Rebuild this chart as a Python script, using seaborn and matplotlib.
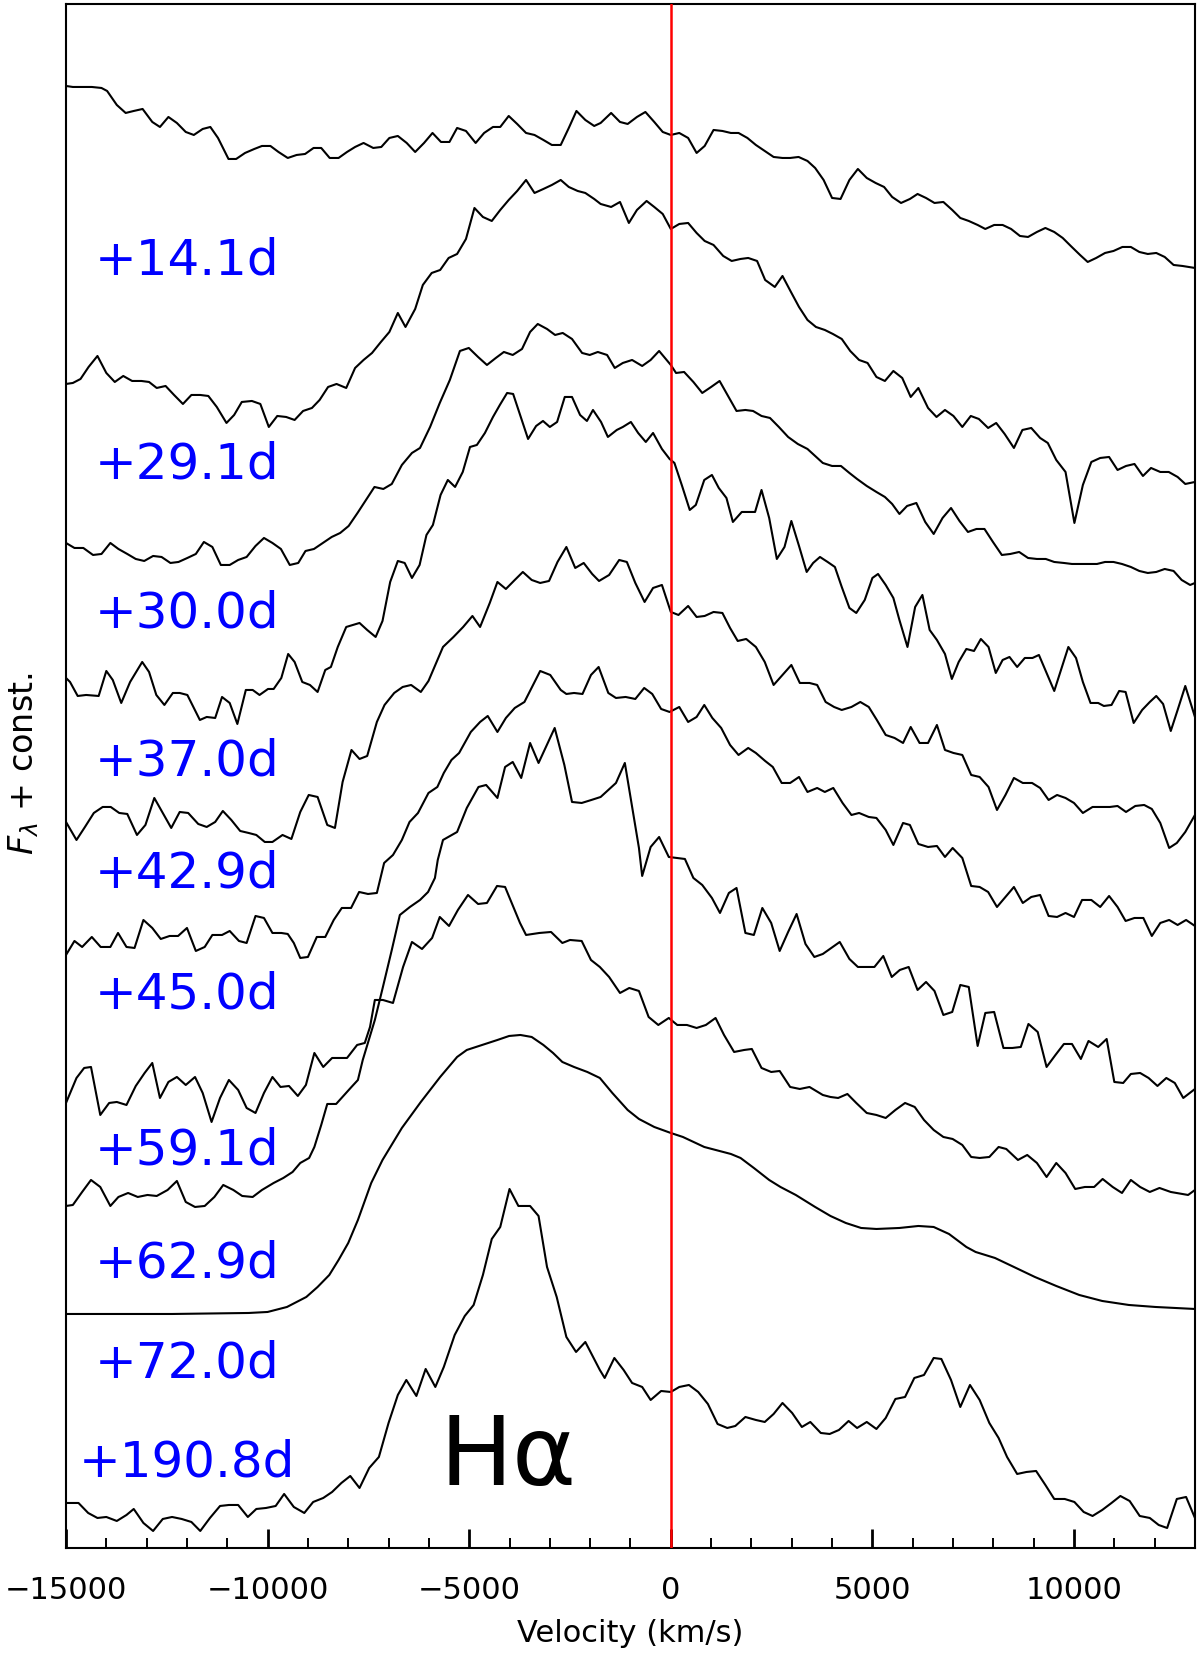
import pandas as pd
import matplotlib
matplotlib.use("Agg")
import matplotlib.pyplot as plt
import seaborn as sns
from matplotlib.ticker import MultipleLocator

# epochs, top to bottom, and the constant added to each spectrum
epochs = ["+14.1d", "+29.1d", "+30.0d", "+37.0d", "+42.9d",
          "+45.0d", "+59.1d", "+62.9d", "+72.0d", "+190.8d"]
offsets = [12, 10, 9, 8, 6, 5, 3, 2, 2, 0]

# (velocity km/s, scaled flux)
spec_14 = [(-15000, 2.62), (-14830, 2.61), (-14690, 2.61), (-14360, 2.61), (-14120, 2.60), (-13980, 2.57), (-13740, 2.43), (-13520, 2.35), (-13320, 2.37), (-13100, 2.39), (-12860, 2.26), (-12670, 2.21), (-12460, 2.31), (-12250, 2.25), (-12030, 2.16), (-11830, 2.13), (-11610, 2.19), (-11420, 2.21), (-11230, 2.10), (-10970, 1.89), (-10780, 1.89), (-10560, 1.95), (-10330, 1.99), (-10140, 2.02), (-9930, 2.02), (-9730, 1.96), (-9500, 1.90), (-9280, 1.93), (-9070, 1.94), (-8860, 2.00), (-8670, 2.00), (-8460, 1.90), (-8240, 1.90), (-8030, 1.96), (-7830, 2.01), (-7620, 2.05), (-7380, 2.00), (-7180, 2.01), (-6980, 2.10), (-6770, 2.12), (-6550, 2.05), (-6340, 1.96), (-6120, 2.05), (-5910, 2.15), (-5700, 2.06), (-5490, 2.06), (-5300, 2.20), (-5080, 2.17), (-4840, 2.05), (-4630, 2.15), (-4410, 2.21), (-4230, 2.21), (-4020, 2.32), (-3810, 2.24), (-3590, 2.15), (-3380, 2.13), (-3160, 2.08), (-2950, 2.03), (-2730, 2.03), (-2530, 2.20), (-2340, 2.37), (-2120, 2.28), (-1900, 2.22), (-1740, 2.25), (-1480, 2.35), (-1260, 2.26), (-1070, 2.24), (-840, 2.31), (-630, 2.36), (-410, 2.26), (-200, 2.16), (0, 2.13), (210, 2.15), (430, 2.10), (640, 1.95), (840, 2.02), (1060, 2.18), (1280, 2.17), (1490, 2.15), (1680, 2.15), (1900, 2.10), (2110, 2.03), (2330, 1.97), (2550, 1.91), (2770, 1.90), (2960, 1.90), (3170, 1.91), (3390, 1.87), (3580, 1.80), (3790, 1.68), (4000, 1.50), (4210, 1.49), (4430, 1.68), (4640, 1.79), (4860, 1.70), (5080, 1.65), (5290, 1.61), (5490, 1.51), (5710, 1.45), (5930, 1.49), (6120, 1.54), (6330, 1.50), (6540, 1.45), (6760, 1.46), (6980, 1.38), (7180, 1.30), (7390, 1.27), (7610, 1.23), (7800, 1.19), (8020, 1.23), (8230, 1.23), (8440, 1.19), (8660, 1.12), (8860, 1.11), (9080, 1.16), (9290, 1.20), (9510, 1.16), (9720, 1.10), (9920, 1.02), (10150, 0.93), (10340, 0.86), (10550, 0.90), (10770, 0.95), (10980, 0.97), (11200, 1.01), (11410, 1.01), (11620, 0.96), (11830, 0.94), (12040, 0.95), (12250, 0.91), (12470, 0.83), (12690, 0.82), (13000, 0.80)]

spec_29 = [(-15000, 1.64), (-14830, 1.65), (-14640, 1.69), (-14440, 1.81), (-14220, 1.92), (-14000, 1.75), (-13790, 1.66), (-13580, 1.72), (-13360, 1.67), (-13130, 1.67), (-12940, 1.66), (-12750, 1.60), (-12530, 1.62), (-12320, 1.53), (-12100, 1.44), (-11890, 1.53), (-11670, 1.53), (-11470, 1.52), (-11260, 1.41), (-11020, 1.25), (-10830, 1.33), (-10640, 1.46), (-10390, 1.47), (-10180, 1.44), (-9970, 1.21), (-9760, 1.32), (-9540, 1.31), (-9330, 1.28), (-9120, 1.37), (-8900, 1.40), (-8710, 1.48), (-8500, 1.61), (-8290, 1.64), (-8050, 1.60), (-7830, 1.80), (-7620, 1.88), (-7410, 1.95), (-7190, 2.06), (-6980, 2.16), (-6770, 2.35), (-6580, 2.21), (-6340, 2.39), (-6150, 2.63), (-5930, 2.75), (-5720, 2.78), (-5510, 2.90), (-5300, 2.94), (-5080, 3.09), (-4870, 3.40), (-4660, 3.31), (-4440, 3.27), (-4230, 3.38), (-4020, 3.48), (-3810, 3.57), (-3590, 3.68), (-3380, 3.55), (-3160, 3.59), (-2950, 3.63), (-2730, 3.68), (-2530, 3.61), (-2310, 3.57), (-2120, 3.55), (-1900, 3.49), (-1740, 3.44), (-1480, 3.41), (-1260, 3.46), (-1040, 3.25), (-840, 3.38), (-600, 3.47), (-410, 3.41), (-200, 3.34), (0, 3.19), (210, 3.24), (430, 3.25), (640, 3.15), (840, 3.07), (1060, 3.03), (1300, 2.92), (1510, 2.87), (1730, 2.89), (1920, 2.90), (2140, 2.87), (2340, 2.68), (2580, 2.61), (2770, 2.72), (2980, 2.56), (3180, 2.41), (3390, 2.28), (3600, 2.21), (3820, 2.18), (4020, 2.14), (4240, 2.09), (4450, 1.97), (4670, 1.88), (4880, 1.85), (5100, 1.71), (5310, 1.67), (5520, 1.77), (5740, 1.70), (5950, 1.51), (6140, 1.60), (6380, 1.40), (6590, 1.31), (6800, 1.38), (7010, 1.32), (7230, 1.21), (7440, 1.32), (7640, 1.29), (7870, 1.20), (8070, 1.25), (8280, 1.14), (8510, 1.00), (8720, 1.18), (8940, 1.20), (9160, 1.10), (9350, 1.05), (9560, 0.88), (9790, 0.76), (10010, 0.25), (10220, 0.63), (10430, 0.86), (10650, 0.90), (10870, 0.91), (11080, 0.78), (11290, 0.82), (11500, 0.84), (11710, 0.72), (11910, 0.80), (12140, 0.76), (12350, 0.76), (12570, 0.71), (12760, 0.64), (13000, 0.66)]

spec_30 = [(-15000, 1.05), (-14790, 1.00), (-14570, 1.00), (-14330, 0.93), (-14120, 0.94), (-13900, 1.05), (-13700, 0.99), (-13480, 0.94), (-13270, 0.89), (-13060, 0.87), (-12840, 0.92), (-12630, 0.91), (-12410, 0.85), (-12210, 0.86), (-11990, 0.90), (-11780, 0.94), (-11580, 1.06), (-11370, 1.01), (-11160, 0.83), (-10940, 0.83), (-10730, 0.88), (-10520, 0.91), (-10300, 1.02), (-10090, 1.10), (-9880, 1.05), (-9670, 0.99), (-9450, 0.83), (-9240, 0.85), (-9060, 0.97), (-8850, 0.99), (-8630, 1.05), (-8410, 1.11), (-8200, 1.15), (-7990, 1.22), (-7770, 1.35), (-7560, 1.48), (-7350, 1.61), (-7130, 1.59), (-6920, 1.64), (-6670, 1.83), (-6420, 1.95), (-6220, 2.00), (-5970, 2.21), (-5730, 2.45), (-5480, 2.68), (-5230, 2.97), (-5010, 3.00), (-4780, 2.91), (-4560, 2.83), (-4340, 2.90), (-4140, 2.96), (-3920, 2.93), (-3690, 2.99), (-3490, 3.16), (-3300, 3.24), (-3070, 3.19), (-2870, 3.13), (-2680, 3.15), (-2450, 3.09), (-2200, 2.95), (-2010, 2.93), (-1810, 2.96), (-1580, 2.93), (-1390, 2.80), (-1190, 2.85), (-960, 2.88), (-710, 2.82), (-500, 2.88), (-290, 2.97), (0, 2.83), (130, 2.75), (330, 2.76), (560, 2.66), (780, 2.55), (1000, 2.61), (1210, 2.67), (1420, 2.52), (1630, 2.37), (1850, 2.38), (2040, 2.37), (2250, 2.32), (2460, 2.30), (2680, 2.21), (2910, 2.11), (3150, 2.04), (3390, 1.99), (3580, 1.92), (3770, 1.85), (4000, 1.82), (4220, 1.82), (4430, 1.75), (4620, 1.69), (4860, 1.62), (5100, 1.56), (5310, 1.51), (5490, 1.44), (5670, 1.34), (5860, 1.42), (6090, 1.45), (6310, 1.26), (6520, 1.14), (6740, 1.30), (6950, 1.40), (7160, 1.27), (7370, 1.16), (7580, 1.19), (7780, 1.19), (7990, 1.06), (8210, 0.93), (8420, 0.94), (8640, 0.96), (8860, 0.90), (9080, 0.89), (9300, 0.89), (9510, 0.86), (9750, 0.85), (9950, 0.84), (10170, 0.84), (10360, 0.84), (10570, 0.84), (10770, 0.86), (10980, 0.86), (11190, 0.84), (11410, 0.81), (11620, 0.77), (11830, 0.75), (12040, 0.76), (12250, 0.79), (12470, 0.77), (12670, 0.68), (12880, 0.63), (13000, 0.65)]

spec_37 = [(-15000, 0.70), (-14900, 0.66), (-14710, 0.52), (-14500, 0.53), (-14190, 0.52), (-14000, 0.77), (-13840, 0.68), (-13630, 0.45), (-13410, 0.66), (-13110, 0.86), (-12940, 0.76), (-12760, 0.53), (-12560, 0.43), (-12350, 0.55), (-12180, 0.55), (-11990, 0.53), (-11680, 0.28), (-11510, 0.31), (-11300, 0.30), (-11130, 0.51), (-10940, 0.45), (-10750, 0.24), (-10540, 0.58), (-10370, 0.58), (-10200, 0.53), (-9990, 0.59), (-9850, 0.59), (-9660, 0.70), (-9490, 0.94), (-9330, 0.86), (-9140, 0.66), (-8950, 0.63), (-8760, 0.56), (-8570, 0.78), (-8430, 0.81), (-8260, 1.01), (-8050, 1.21), (-7720, 1.25), (-7530, 1.18), (-7320, 1.11), (-7150, 1.27), (-6960, 1.66), (-6770, 1.87), (-6600, 1.85), (-6420, 1.70), (-6230, 1.83), (-6060, 2.13), (-5900, 2.23), (-5710, 2.53), (-5530, 2.68), (-5350, 2.61), (-5160, 2.76), (-4980, 3.01), (-4810, 3.03), (-4610, 3.15), (-4410, 3.31), (-4240, 3.43), (-4060, 3.55), (-3910, 3.54), (-3720, 3.31), (-3540, 3.09), (-3340, 3.22), (-3170, 3.27), (-3000, 3.21), (-2820, 3.26), (-2630, 3.51), (-2450, 3.51), (-2250, 3.33), (-2080, 3.27), (-1930, 3.38), (-1730, 3.26), (-1560, 3.11), (-1340, 3.18), (-1190, 3.21), (-990, 3.26), (-810, 3.15), (-620, 3.06), (-440, 3.15), (-220, 2.99), (-30, 2.89), (90, 2.85), (280, 2.62), (470, 2.38), (620, 2.43), (830, 2.68), (1020, 2.73), (1190, 2.60), (1380, 2.50), (1540, 2.26), (1760, 2.36), (2090, 2.36), (2250, 2.58), (2440, 2.30), (2630, 1.89), (2820, 2.01), (2990, 2.27), (3180, 2.02), (3370, 1.76), (3530, 1.85), (3700, 1.91), (3890, 1.86), (4070, 1.81), (4240, 1.61), (4430, 1.40), (4600, 1.35), (4810, 1.48), (5000, 1.70), (5140, 1.74), (5330, 1.63), (5520, 1.50), (5670, 1.28), (5870, 1.01), (6060, 1.41), (6240, 1.53), (6420, 1.18), (6600, 1.08), (6800, 0.94), (6970, 0.69), (7140, 0.86), (7330, 0.99), (7520, 0.97), (7690, 1.09), (7880, 1.01), (8060, 0.75), (8230, 0.88), (8400, 0.91), (8590, 0.81), (8780, 0.90), (8970, 0.90), (9130, 0.93), (9320, 0.75), (9510, 0.57), (9700, 0.81), (9860, 1.01), (10050, 0.90), (10220, 0.66), (10410, 0.45), (10600, 0.45), (10740, 0.42), (10930, 0.43), (11120, 0.57), (11280, 0.56), (11480, 0.25), (11690, 0.38), (11880, 0.46), (12040, 0.52), (12210, 0.44), (12400, 0.17), (12570, 0.38), (12760, 0.62), (13000, 0.31)]

spec_43 = [(-15000, 1.26), (-14740, 1.08), (-14530, 1.21), (-14310, 1.35), (-14090, 1.41), (-13890, 1.41), (-13680, 1.35), (-13480, 1.34), (-13240, 1.13), (-13030, 1.23), (-12810, 1.50), (-12600, 1.35), (-12390, 1.20), (-12180, 1.36), (-11970, 1.35), (-11720, 1.24), (-11510, 1.21), (-11300, 1.26), (-11110, 1.37), (-10900, 1.28), (-10680, 1.17), (-10470, 1.15), (-10280, 1.13), (-10070, 1.06), (-9880, 1.06), (-9630, 1.13), (-9410, 1.09), (-9190, 1.36), (-8980, 1.53), (-8760, 1.51), (-8520, 1.23), (-8330, 1.20), (-8140, 1.66), (-7920, 1.98), (-7720, 1.89), (-7530, 1.92), (-7290, 2.26), (-7100, 2.43), (-6860, 2.55), (-6650, 2.61), (-6440, 2.63), (-6200, 2.56), (-6010, 2.67), (-5820, 2.85), (-5650, 3.01), (-5390, 3.11), (-5150, 3.21), (-4920, 3.32), (-4730, 3.21), (-4490, 3.45), (-4300, 3.66), (-4090, 3.59), (-3870, 3.68), (-3670, 3.76), (-3450, 3.68), (-3240, 3.65), (-3020, 3.67), (-2810, 3.86), (-2590, 4.01), (-2370, 3.80), (-2160, 3.85), (-1950, 3.74), (-1780, 3.67), (-1530, 3.73), (-1280, 3.88), (-1090, 3.86), (-880, 3.65), (-650, 3.46), (-440, 3.60), (-220, 3.63), (0, 3.36), (190, 3.33), (430, 3.42), (640, 3.31), (840, 3.32), (1060, 3.36), (1280, 3.35), (1470, 3.20), (1660, 3.07), (1870, 3.09), (2110, 3.01), (2330, 2.86), (2550, 2.63), (2770, 2.73), (2990, 2.83), (3200, 2.65), (3440, 2.65), (3630, 2.63), (3840, 2.46), (4050, 2.41), (4240, 2.38), (4480, 2.41), (4700, 2.46), (4910, 2.41), (5110, 2.28), (5330, 2.13), (5550, 2.10), (5760, 2.05), (5950, 2.21), (6170, 2.05), (6380, 2.05), (6600, 2.23), (6800, 1.98), (7010, 1.95), (7230, 1.93), (7450, 1.73), (7660, 1.71), (7880, 1.61), (8090, 1.38), (8300, 1.53), (8510, 1.70), (8730, 1.65), (8960, 1.65), (9160, 1.60), (9370, 1.48), (9580, 1.53), (9790, 1.50), (10000, 1.45), (10220, 1.35), (10460, 1.41), (10890, 1.41), (11080, 1.42), (11290, 1.36), (11520, 1.42), (11740, 1.43), (11930, 1.39), (12140, 1.25), (12360, 1.00), (12550, 1.05), (12760, 1.16), (13000, 1.33)]

spec_45 = [(-15000, 0.93), (-14790, 1.07), (-14600, 1.01), (-14360, 1.11), (-14140, 1.01), (-13900, 1.01), (-13710, 1.15), (-13500, 1.01), (-13300, 1.00), (-13080, 1.28), (-12860, 1.20), (-12650, 1.09), (-12430, 1.12), (-12220, 1.12), (-12000, 1.20), (-11780, 0.97), (-11560, 1.01), (-11370, 1.13), (-11130, 1.13), (-10940, 1.17), (-10710, 1.07), (-10520, 1.05), (-10300, 1.32), (-10090, 1.30), (-9880, 1.15), (-9660, 1.15), (-9500, 1.14), (-9350, 1.05), (-9190, 0.90), (-9000, 0.91), (-8780, 1.11), (-8570, 1.11), (-8360, 1.28), (-8160, 1.40), (-7930, 1.40), (-7730, 1.56), (-7510, 1.54), (-7290, 1.55), (-7110, 1.85), (-6890, 1.93), (-6670, 2.08), (-6480, 2.26), (-6270, 2.35), (-6010, 2.55), (-5790, 2.61), (-5630, 2.75), (-5440, 2.88), (-5250, 2.95), (-4960, 3.16), (-4730, 3.26), (-4540, 3.32), (-4300, 3.16), (-4090, 3.30), (-3870, 3.40), (-3630, 3.46), (-3440, 3.61), (-3240, 3.77), (-2990, 3.73), (-2730, 3.58), (-2590, 3.54), (-2400, 3.55), (-2190, 3.54), (-1980, 3.73), (-1790, 3.81), (-1550, 3.55), (-1360, 3.50), (-1120, 3.51), (-880, 3.49), (-660, 3.60), (-460, 3.54), (-240, 3.39), (-30, 3.36), (210, 3.41), (430, 3.26), (640, 3.31), (830, 3.43), (1030, 3.30), (1250, 3.20), (1470, 3.03), (1680, 2.93), (1920, 3.00), (2110, 2.95), (2340, 2.87), (2530, 2.81), (2750, 2.65), (2960, 2.65), (3180, 2.71), (3390, 2.56), (3630, 2.60), (3820, 2.56), (4030, 2.60), (4260, 2.45), (4480, 2.33), (4670, 2.35), (4910, 2.31), (5100, 2.30), (5330, 2.18), (5520, 2.03), (5760, 2.25), (5930, 2.23), (6140, 2.04), (6380, 2.01), (6600, 2.02), (6800, 1.91), (6990, 2.00), (7230, 1.90), (7450, 1.62), (7660, 1.61), (7870, 1.56), (8090, 1.41), (8300, 1.51), (8510, 1.61), (8730, 1.45), (8940, 1.51), (9160, 1.53), (9370, 1.32), (9580, 1.31), (9790, 1.35), (10000, 1.31), (10200, 1.48), (10430, 1.48), (10650, 1.41), (10870, 1.52), (11080, 1.41), (11280, 1.27), (11500, 1.30), (11720, 1.30), (11930, 1.12), (12140, 1.25), (12360, 1.28), (12570, 1.23), (12780, 1.28), (13000, 1.22)]

spec_59 = [(-15000, 1.45), (-14740, 1.70), (-14550, 1.80), (-14380, 1.81), (-14150, 1.33), (-13930, 1.45), (-13740, 1.46), (-13500, 1.43), (-13270, 1.62), (-13050, 1.75), (-12860, 1.85), (-12670, 1.50), (-12460, 1.66), (-12250, 1.71), (-12030, 1.63), (-11800, 1.71), (-11610, 1.55), (-11390, 1.26), (-11180, 1.50), (-10960, 1.68), (-10730, 1.58), (-10520, 1.40), (-10300, 1.35), (-10090, 1.55), (-9880, 1.71), (-9680, 1.61), (-9470, 1.62), (-9250, 1.52), (-9050, 1.63), (-8840, 1.95), (-8620, 1.81), (-8400, 1.90), (-8190, 1.90), (-8030, 1.90), (-7780, 2.03), (-7590, 2.05), (-7460, 2.21), (-7340, 2.48), (-7140, 2.48), (-6890, 2.45), (-6640, 2.81), (-6420, 3.06), (-6170, 2.99), (-5920, 3.10), (-5730, 3.31), (-5500, 3.22), (-5280, 3.38), (-5030, 3.53), (-4780, 3.44), (-4560, 3.45), (-4310, 3.62), (-4110, 3.61), (-3740, 3.25), (-3590, 3.13), (-3260, 3.15), (-2970, 3.16), (-2690, 3.05), (-2500, 3.08), (-2210, 3.07), (-1980, 2.88), (-1760, 2.81), (-1530, 2.71), (-1260, 2.55), (-1030, 2.60), (-790, 2.57), (-550, 2.31), (-310, 2.23), (-50, 2.30), (160, 2.23), (400, 2.23), (640, 2.20), (870, 2.23), (1110, 2.30), (1320, 2.13), (1570, 1.96), (1820, 1.98), (2010, 1.99), (2250, 1.80), (2490, 1.76), (2700, 1.77), (2960, 1.61), (3200, 1.59), (3440, 1.61), (3770, 1.53), (3960, 1.51), (4150, 1.50), (4380, 1.54), (4600, 1.45), (4860, 1.35), (5100, 1.33), (5330, 1.30), (5570, 1.38), (5810, 1.45), (6050, 1.41), (6280, 1.28), (6520, 1.18), (6760, 1.11), (6990, 1.09), (7230, 1.03), (7450, 0.91), (7660, 0.90), (7900, 0.91), (8130, 1.01), (8320, 0.99), (8610, 0.88), (8840, 0.93), (9080, 0.85), (9320, 0.71), (9560, 0.85), (9790, 0.75), (10030, 0.59), (10270, 0.61), (10500, 0.61), (10710, 0.69), (10960, 0.61), (11190, 0.55), (11410, 0.68), (11640, 0.61), (11880, 0.56), (12120, 0.60), (12400, 0.56), (12830, 0.53), (13000, 0.58)]

spec_63 = [(-15000, 1.42), (-14830, 1.43), (-14600, 1.56), (-14380, 1.68), (-14150, 1.61), (-13900, 1.42), (-13700, 1.51), (-13460, 1.55), (-13220, 1.51), (-12980, 1.53), (-12750, 1.52), (-12480, 1.58), (-12250, 1.67), (-12030, 1.46), (-11800, 1.41), (-11560, 1.42), (-11320, 1.51), (-11100, 1.63), (-10850, 1.58), (-10630, 1.52), (-10370, 1.51), (-10140, 1.58), (-9850, 1.65), (-9610, 1.70), (-9380, 1.76), (-9190, 1.85), (-8970, 1.90), (-8840, 2.01), (-8670, 2.23), (-8520, 2.44), (-8300, 2.44), (-8100, 2.53), (-7920, 2.61), (-7760, 2.68), (-7640, 2.88), (-7340, 3.28), (-7140, 3.61), (-6920, 3.98), (-6720, 4.33), (-6470, 4.41), (-6220, 4.48), (-6020, 4.56), (-5850, 4.70), (-5780, 4.88), (-5650, 5.08), (-5300, 5.16), (-5060, 5.40), (-4770, 5.61), (-4580, 5.63), (-4300, 5.50), (-4110, 5.81), (-3920, 5.86), (-3710, 5.70), (-3490, 6.05), (-3280, 5.85), (-2880, 6.20), (-2640, 5.83), (-2450, 5.46), (-2210, 5.45), (-1970, 5.48), (-1740, 5.51), (-1550, 5.58), (-1360, 5.65), (-1140, 5.85), (-980, 5.46), (-790, 5.00), (-710, 4.72), (-500, 5.01), (-290, 5.11), (-50, 4.91), (350, 4.89), (560, 4.70), (780, 4.63), (1020, 4.50), (1220, 4.35), (1440, 4.55), (1630, 4.60), (1850, 4.15), (2060, 4.13), (2270, 4.40), (2490, 4.25), (2700, 3.97), (2910, 4.16), (3120, 4.34), (3340, 4.04), (3560, 3.91), (3770, 3.94), (3980, 4.00), (4190, 4.06), (4430, 3.89), (4640, 3.81), (4860, 3.81), (5050, 3.81), (5270, 3.92), (5480, 3.71), (5680, 3.78), (5900, 3.81), (6120, 3.58), (6330, 3.66), (6540, 3.57), (6760, 3.33), (6980, 3.36), (7180, 3.63), (7390, 3.61), (7610, 3.02), (7800, 3.35), (8020, 3.36), (8250, 3.00), (8470, 3.00), (8680, 3.01), (8870, 3.24), (9100, 3.16), (9320, 2.81), (9540, 2.93), (9750, 3.04), (9950, 3.04), (10170, 2.89), (10360, 3.07), (10600, 3.01), (10810, 3.09), (11000, 2.66), (11220, 2.65), (11410, 2.74), (11640, 2.75), (11850, 2.70), (12070, 2.62), (12290, 2.70), (12500, 2.65), (12710, 2.50), (13000, 2.59)]

spec_72 = [(-15000, 0.34), (-13790, 0.34), (-12370, 0.34), (-10470, 0.35), (-10000, 0.36), (-9520, 0.41), (-9040, 0.51), (-8760, 0.61), (-8470, 0.73), (-8240, 0.88), (-8000, 1.05), (-7760, 1.28), (-7430, 1.65), (-7150, 1.88), (-6670, 2.20), (-6200, 2.46), (-5720, 2.71), (-5300, 2.91), (-5060, 2.98), (-4680, 3.03), (-4300, 3.08), (-4010, 3.12), (-3730, 3.13), (-3450, 3.11), (-3160, 3.03), (-2920, 2.95), (-2690, 2.86), (-2400, 2.81), (-2070, 2.76), (-1760, 2.70), (-1450, 2.55), (-1070, 2.38), (-790, 2.29), (-410, 2.21), (0, 2.15), (300, 2.11), (830, 2.01), (1490, 1.94), (1730, 1.90), (2060, 1.80), (2440, 1.68), (2720, 1.61), (3100, 1.53), (3580, 1.41), (3960, 1.32), (4340, 1.25), (4720, 1.20), (5100, 1.19), (5670, 1.20), (6140, 1.22), (6520, 1.21), (6900, 1.14), (7330, 1.01), (7560, 0.96), (8040, 0.90), (8510, 0.81), (9030, 0.71), (9560, 0.62), (10130, 0.53), (10700, 0.47), (11360, 0.43), (12020, 0.41), (13000, 0.39)]

spec_191 = [(-15000, 0.45), (-14690, 0.45), (-14450, 0.35), (-14220, 0.30), (-14000, 0.31), (-13740, 0.27), (-13500, 0.33), (-13320, 0.39), (-13080, 0.25), (-12840, 0.17), (-12600, 0.29), (-12370, 0.31), (-12130, 0.29), (-11890, 0.26), (-11670, 0.17), (-11430, 0.30), (-11180, 0.42), (-10960, 0.43), (-10730, 0.43), (-10490, 0.31), (-10280, 0.39), (-10040, 0.40), (-9800, 0.42), (-9590, 0.54), (-9350, 0.41), (-9090, 0.35), (-8870, 0.46), (-8620, 0.50), (-8400, 0.56), (-8170, 0.65), (-7950, 0.72), (-7720, 0.60), (-7480, 0.80), (-7240, 0.91), (-7000, 1.25), (-6770, 1.53), (-6560, 1.68), (-6310, 1.52), (-6080, 1.79), (-5840, 1.61), (-5630, 1.81), (-5360, 2.13), (-5110, 2.32), (-4890, 2.43), (-4660, 2.73), (-4440, 3.09), (-4230, 3.21), (-4000, 3.59), (-3780, 3.42), (-3490, 3.42), (-3280, 3.32), (-3070, 2.81), (-2830, 2.51), (-2590, 2.11), (-2350, 1.96), (-2120, 2.06), (-1760, 1.78), (-1640, 1.70), (-1400, 1.90), (-1170, 1.78), (-960, 1.65), (-710, 1.61), (-500, 1.48), (-240, 1.57), (0, 1.56), (210, 1.61), (450, 1.63), (680, 1.56), (920, 1.44), (1160, 1.24), (1400, 1.20), (1600, 1.22), (1850, 1.31), (2110, 1.28), (2330, 1.26), (2550, 1.34), (2770, 1.45), (3010, 1.35), (3250, 1.21), (3460, 1.26), (3720, 1.15), (3940, 1.14), (4170, 1.18), (4410, 1.27), (4620, 1.20), (4860, 1.26), (5100, 1.19), (5330, 1.30), (5570, 1.49), (5810, 1.51), (6040, 1.70), (6280, 1.73), (6520, 1.90), (6710, 1.89), (6950, 1.68), (7180, 1.41), (7420, 1.63), (7660, 1.48), (7900, 1.25), (8130, 1.10), (8340, 0.91), (8590, 0.74), (8820, 0.76), (9060, 0.77), (9290, 0.63), (9510, 0.49), (9770, 0.49), (10010, 0.46), (10240, 0.36), (10460, 0.32), (10700, 0.38), (10930, 0.45), (11150, 0.52), (11380, 0.47), (11630, 0.32), (11880, 0.30), (12100, 0.23), (12310, 0.20), (12550, 0.49), (12780, 0.51), (13000, 0.30)]

spectra = [spec_14, spec_29, spec_30, spec_37, spec_43,
           spec_45, spec_59, spec_63, spec_72, spec_191]

# where the epoch labels sit (flux + const units)
label_y = [12.73, 10.69, 9.20, 7.72, 6.60, 5.39, 3.83, 2.70, 1.70, 0.71]

rows = []
for ep, off, spec in zip(epochs, offsets, spectra):
    for v, f in spec:
        rows.append((ep, v, f + off))
df = pd.DataFrame(rows, columns=["epoch", "velocity", "flux"])

sns.set_style("ticks")
plt.rcParams.update({
    "font.family": ["DejaVu Sans"],
    "mathtext.fontset": "dejavusans",
    "text.color": "black",
    "axes.labelcolor": "black",
    "axes.edgecolor": "black",
    "xtick.color": "black",
    "ytick.color": "black",
})

fig = plt.figure(figsize=(12, 16.54), dpi=100)
ax = fig.add_axes([0.055, 0.0641, 0.9408, 0.9335])

sns.lineplot(data=df, x="velocity", y="flux", hue="epoch",
             palette={e: "black" for e in epochs}, estimator=None,
             sort=False, lw=1.5, legend=False, ax=ax)
ax.axvline(0, color="red", lw=1.8, zorder=5)

for ep, y in zip(epochs, label_y):
    ax.text(-12000, y, ep, color="blue", fontsize=36, ha="center", va="baseline")
ax.text(-5725, 0.63, "H\u03b1", fontsize=70, color="black", ha="left", va="baseline")

ax.set_xlim(-15000, 13000)
ax.set_ylim(0, 15.44)
ax.set_yticks([])
ax.xaxis.set_major_locator(MultipleLocator(5000))
ax.xaxis.set_minor_locator(MultipleLocator(1000))
ax.tick_params(axis="x", which="major", direction="in", length=14, width=2,
               labelsize=22, pad=20, top=False, colors="black")
ax.tick_params(axis="x", which="minor", direction="in", length=7, width=1.4, top=False)
for s in ax.spines.values():
    s.set_linewidth(1.5)
    s.set_color("black")
    s.set_visible(True)

ax.set_xlabel("Velocity (km/s)", fontsize=22, labelpad=10)
ax.set_ylabel(r"$F_\lambda$ + const.", fontsize=24)
ax.yaxis.set_label_coords(-0.022, 0.508)

fig.savefig("out.png", dpi=100)
